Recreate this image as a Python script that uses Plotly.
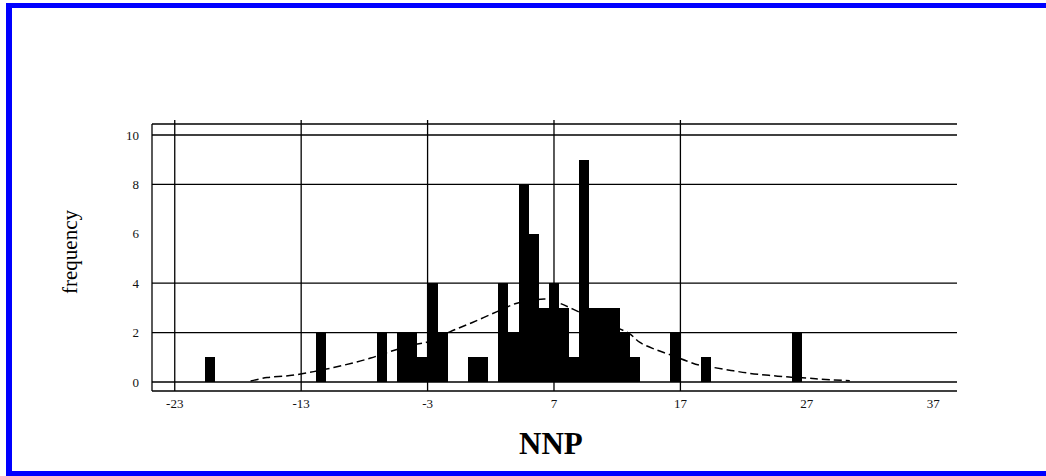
import plotly.graph_objects as go

# NNP histogram: left edge of each occupied bin (bin width 0.8) and its count
bin_left = [-20.6, -11.8, -7.0, -5.4, -4.6, -3.8, -3.0, -2.2, 0.2, 1.0,
            2.6, 3.4, 4.2, 5.0, 5.8, 6.6, 7.4, 8.2, 9.0, 9.8, 10.6, 11.4,
            12.2, 13.0, 16.2, 18.6, 25.8]
counts = [1, 2, 2, 2, 2, 1, 4, 2, 1, 1,
          4, 2, 8, 6, 3, 4, 3, 1, 9, 3, 3, 3,
          2, 1, 2, 1, 2]
BIN_WIDTH = 0.8

# Fitted normal curve, expressed in counts per bin
curve_x = [-17.0, -15.7, -13.9, -12.0, -10.5, -9.0, -7.5, -6.0, -4.0, -3.0,
           -1.2, 0.5, 2.5, 4.0, 5.5, 6.5, 7.5, 8.5, 10.0, 12.2, 13.0, 13.8,
           15.0, 16.2, 17.5, 18.5, 19.5, 21.0, 22.5, 24.0, 25.6, 27.0, 28.0, 30.4]
curve_y = [0.04, 0.18, 0.26, 0.42, 0.58, 0.76, 0.97, 1.23, 1.52, 1.62,
           2.04, 2.40, 2.85, 3.18, 3.33, 3.35, 3.18, 2.95, 2.60, 2.15, 1.95, 1.60,
           1.32, 1.10, 0.85, 0.68, 0.60, 0.47, 0.35, 0.27, 0.20, 0.16, 0.12, 0.05]

x_ticks = [-23, -13, -3, 7, 17, 27, 37]
y_ticks = [0, 2, 4, 6, 8, 10]
grid_x = [-23, -13, -3, 7, 17]
grid_y = [0, 2, 4, 8, 10]

X_RANGE = [-24.8, 38.88]
Y_RANGE = [-0.364, 10.445]

W, H = 1046, 476
ML, MR, MT, MB = 152, 89, 124, 85
PW, PH = W - ML - MR, H - MT - MB


def px(x):
    """Horizontal pixel -> paper coordinate."""
    return (x - ML) / PW


def py(y):
    """Vertical pixel (from top) -> paper coordinate."""
    return (H - MB - y) / PH


SERIF = "Liberation Serif, Times New Roman, serif"

fig = go.Figure()

fig.add_trace(go.Scatter(
    x=curve_x, y=curve_y, mode="lines",
    line=dict(color="black", width=1.5, dash="8px,4px", shape="spline"),
    hoverinfo="skip", showlegend=False,
))

fig.add_trace(go.Bar(
    x=[b + BIN_WIDTH / 2 for b in bin_left], y=counts, width=BIN_WIDTH,
    marker=dict(color="black", line=dict(width=0)),
    showlegend=False,
))

shapes = []
# frame: top, bottom and left edges of the plotting area
for y0 in (0, 1):
    shapes.append(dict(type="line", xref="paper", yref="paper",
                       x0=0, x1=1, y0=y0, y1=y0,
                       line=dict(color="black", width=1.3), layer="below"))
shapes.append(dict(type="line", xref="paper", yref="paper",
                   x0=0, x1=0, y0=0, y1=1,
                   line=dict(color="black", width=1.3), layer="below"))
# grid lines
for gy in grid_y:
    shapes.append(dict(type="line", xref="paper", yref="y",
                       x0=0, x1=1, y0=gy, y1=gy,
                       line=dict(color="black", width=1.3), layer="below"))
for gx in grid_x:
    shapes.append(dict(type="line", xref="x", yref="paper",
                       x0=gx, x1=gx, y0=0, y1=py(120),
                       line=dict(color="black", width=1.3), layer="below"))
# blue page border
BLUE = "#0000FF"
for (x0, y0, x1, y1) in [(6, 3, W, 8), (6, 3, 12, H), (6, 471, W, H)]:
    shapes.append(dict(type="rect", xref="paper", yref="paper",
                       x0=px(x0), x1=px(x1), y0=py(y1), y1=py(y0),
                       fillcolor=BLUE, line=dict(width=0), layer="above"))

annotations = [
    dict(text="frequency", xref="paper", yref="paper",
         x=px(70), y=py(252), textangle=-90, showarrow=False,
         xanchor="center", yanchor="middle",
         font=dict(family=SERIF, size=21, color="black")),
    dict(text="<b>NNP</b>", xref="paper", yref="paper",
         x=px(551), y=py(443), showarrow=False,
         xanchor="center", yanchor="middle",
         font=dict(family=SERIF, size=31, color="black")),
]

fig.update_layout(
    width=W, height=H, autosize=False,
    margin=dict(l=ML, r=MR, t=MT, b=MB, pad=0),
    paper_bgcolor="white", plot_bgcolor="white",
    shapes=shapes, annotations=annotations,
    bargap=0,
    xaxis=dict(range=X_RANGE, tickvals=x_ticks, ticktext=[str(v) for v in x_ticks],
               showgrid=False, zeroline=False, showline=False, ticks="",
               ticklabelstandoff=3,
               tickfont=dict(family=SERIF, size=13, color="#111")),
    yaxis=dict(range=Y_RANGE, tickvals=y_ticks, ticktext=[str(v) for v in y_ticks],
               showgrid=False, zeroline=False, showline=False, ticks="",
               ticklabelstandoff=12,
               tickfont=dict(family=SERIF, size=13, color="#111")),
)

fig.write_html("out.html")
